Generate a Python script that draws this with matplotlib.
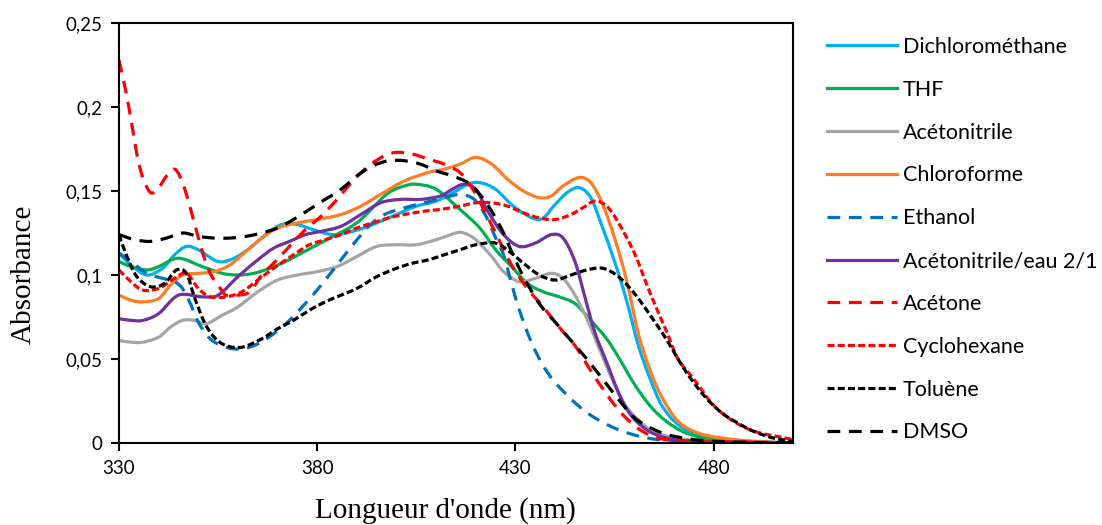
import matplotlib
matplotlib.use("Agg")
import numpy as np
import matplotlib.pyplot as plt
from matplotlib.path import Path
from matplotlib.patches import PathPatch
from matplotlib.lines import Line2D

# wavelengths (nm) and absorbance, one pair per solvent
dcm_x = [330, 333, 337, 341, 344, 347, 350, 355, 359, 363, 367, 371, 375, 379, 384, 389, 395, 400, 405, 410,
         415, 418, 421, 425, 430, 436, 440, 443, 446, 449, 452, 455, 458, 461, 464, 467, 471, 476, 482, 490, 500]
dcm_y = [0.113, 0.106, 0.100, 0.104, 0.112, 0.117, 0.115, 0.108, 0.110, 0.116, 0.124, 0.130, 0.130, 0.127, 0.124,
         0.126, 0.131, 0.136, 0.141, 0.144, 0.150, 0.154, 0.155, 0.151, 0.140, 0.133, 0.142, 0.149, 0.152, 0.146,
         0.128, 0.108, 0.085, 0.058, 0.038, 0.022, 0.011, 0.005, 0.002, 0.001, 0.0]

thf_x = [330, 333, 337, 340, 345, 351, 356, 360, 364, 368, 372, 376, 380, 384, 388, 391, 394, 398, 402, 405,
         410, 416, 421, 425, 429, 433, 437, 441, 445, 449, 453, 456, 460, 464, 468, 473, 480, 490, 500]
thf_y = [0.108, 0.105, 0.103, 0.105, 0.110, 0.105, 0.101, 0.100, 0.101, 0.104, 0.108, 0.113, 0.118, 0.123, 0.128,
         0.133, 0.140, 0.149, 0.153, 0.154, 0.151, 0.139, 0.128, 0.115, 0.105, 0.095, 0.090, 0.087, 0.083, 0.073,
         0.062, 0.051, 0.035, 0.022, 0.013, 0.006, 0.002, 0.0005, 0.0]

acn_x = [330, 333, 336, 340, 343, 346, 349, 352, 356, 360, 365, 370, 375, 380, 385, 390, 395, 400, 405, 410,
         415, 417, 420, 424, 427, 431, 435, 439, 442, 445, 448, 451, 454, 457, 460, 464, 470, 480, 500]
acn_y = [0.061, 0.060, 0.060, 0.063, 0.069, 0.073, 0.073, 0.071, 0.076, 0.081, 0.090, 0.097, 0.100, 0.102, 0.105,
         0.111, 0.117, 0.118, 0.118, 0.121, 0.125, 0.125, 0.121, 0.111, 0.102, 0.096, 0.098, 0.101, 0.098, 0.088,
         0.074, 0.057, 0.040, 0.025, 0.016, 0.008, 0.003, 0.001, 0.0]

chcl3_x = [330, 333, 336, 340, 343, 346, 350, 354, 358, 362, 366, 370, 375, 380, 386, 391, 396, 402, 408, 412,
           416, 420, 424, 428, 432, 436, 439, 442, 446, 449, 452, 455, 458, 461, 464, 467, 471, 476, 482, 490, 500]
chcl3_y = [0.088, 0.085, 0.084, 0.086, 0.094, 0.100, 0.101, 0.102, 0.106, 0.114, 0.122, 0.128, 0.131, 0.133, 0.136,
           0.141, 0.148, 0.156, 0.161, 0.163, 0.166, 0.170, 0.166, 0.157, 0.150, 0.146, 0.147, 0.153, 0.158, 0.155,
           0.142, 0.122, 0.097, 0.065, 0.043, 0.027, 0.013, 0.006, 0.003, 0.001, 0.0]

etoh_x = [330, 333, 337, 341, 344, 346, 348, 350, 353, 357, 361, 365, 369, 373, 377, 381, 385, 389, 393, 397,
          402, 407, 412, 416, 419, 421, 423, 425, 427, 429, 431, 434, 437, 440, 445, 450, 457, 466, 480, 500]
etoh_y = [0.113, 0.108, 0.101, 0.098, 0.096, 0.092, 0.083, 0.072, 0.062, 0.057, 0.056, 0.059, 0.065, 0.073, 0.083,
          0.094, 0.106, 0.118, 0.129, 0.136, 0.140, 0.143, 0.146, 0.148, 0.146, 0.141, 0.133, 0.122, 0.112, 0.095,
          0.079, 0.060, 0.046, 0.036, 0.024, 0.015, 0.007, 0.002, 0.0005, 0.0]

acnw_x = [330, 333, 336, 340, 345, 351, 355, 360, 365, 369, 373, 377, 381, 386, 391, 396, 401, 406, 411, 414,
          417, 420, 423, 427, 431, 435, 439, 442, 445, 447.5, 450, 453, 456, 459, 463, 468, 475, 485, 500]
acnw_y = [0.074, 0.073, 0.073, 0.077, 0.088, 0.087, 0.088, 0.099, 0.109, 0.116, 0.120, 0.124, 0.126, 0.129, 0.136,
          0.143, 0.145, 0.145, 0.147, 0.151, 0.154, 0.151, 0.138, 0.124, 0.117, 0.119, 0.124, 0.122, 0.108, 0.087,
          0.066, 0.048, 0.030, 0.017, 0.008, 0.003, 0.001, 0.0005, 0.0]

acetone_x = [330, 331.5, 333, 334.5, 336, 338, 340, 342, 344, 345.5, 347, 349, 351, 353, 355, 357, 360, 363, 366,
             369, 373, 377, 381, 385, 389, 393, 397, 400, 404, 408, 412, 416, 419, 422, 425, 429, 433, 437, 441,
             445, 449, 453, 457, 462, 468, 480, 500]
acetone_y = [0.228, 0.212, 0.193, 0.172, 0.158, 0.149, 0.152, 0.159, 0.163, 0.158, 0.148, 0.131, 0.114, 0.101, 0.094,
             0.088, 0.088, 0.090, 0.100, 0.107, 0.117, 0.127, 0.135, 0.145, 0.156, 0.165, 0.171, 0.173, 0.172, 0.169,
             0.166, 0.161, 0.152, 0.139, 0.125, 0.106, 0.092, 0.081, 0.069, 0.058, 0.043, 0.029, 0.017, 0.007,
             0.002, 0.001, 0.0]

chx_x = [330, 333, 336, 340, 344, 347, 350, 353, 357, 361, 365, 369, 374, 378, 382, 386, 390, 394, 398, 402, 407,
         411, 416, 420, 424, 428, 432, 436, 440, 444, 447, 450, 453, 456, 460, 464, 468, 471, 475, 481, 489, 498, 500]
chx_y = [0.103, 0.096, 0.091, 0.092, 0.098, 0.101, 0.092, 0.087, 0.087, 0.090, 0.097, 0.104, 0.112, 0.118, 0.121,
         0.124, 0.128, 0.131, 0.134, 0.136, 0.138, 0.139, 0.141, 0.143, 0.143, 0.141, 0.137, 0.134, 0.133, 0.136,
         0.140, 0.144, 0.141, 0.131, 0.113, 0.089, 0.067, 0.050, 0.038, 0.020, 0.008, 0.003, 0.002]

tol_x = [330, 332, 334.5, 338, 341.5, 344.5, 347, 349, 351.5, 354, 357, 361, 366, 370, 374, 378, 382, 386, 390,
         395, 400, 404, 408, 412, 416, 420, 425, 429, 432, 436, 440, 444, 448, 452, 456, 460, 464, 468, 471, 474,
         478, 482, 486, 490, 495, 500]
tol_y = [0.124, 0.111, 0.099, 0.093, 0.095, 0.103, 0.101, 0.087, 0.072, 0.063, 0.058, 0.057, 0.062, 0.068, 0.073,
         0.079, 0.084, 0.088, 0.092, 0.099, 0.104, 0.107, 0.109, 0.112, 0.115, 0.118, 0.119, 0.113, 0.107, 0.100,
         0.097, 0.100, 0.103, 0.104, 0.099, 0.089, 0.076, 0.062, 0.050, 0.039, 0.027, 0.018, 0.012, 0.007, 0.003,
         0.001]

dmso_x = [330, 334, 338, 342, 346, 350, 354, 358, 362, 366, 370, 374, 378, 382, 386, 390, 394, 398, 402, 406,
          410, 414, 418, 421, 424, 427, 429, 432, 436, 440, 444, 448, 452, 456, 460, 465, 470, 480, 500]
dmso_y = [0.124, 0.121, 0.120, 0.122, 0.125, 0.123, 0.122, 0.122, 0.123, 0.125, 0.128, 0.133, 0.139, 0.145, 0.151,
          0.159, 0.165, 0.168, 0.168, 0.166, 0.162, 0.159, 0.155, 0.148, 0.138, 0.125, 0.114, 0.099, 0.083, 0.072,
          0.061, 0.050, 0.038, 0.026, 0.015, 0.008, 0.004, 0.001, 0.0]

long_dash = (0, (4, 2.7))
short_dash = (0, (2.2, 1))

series = [
    ("Dichlorométhane", dcm_x, dcm_y, "#00B0F0", "-"),
    ("THF", thf_x, thf_y, "#00B050", "-"),
    ("Acétonitrile", acn_x, acn_y, "#A5A5A5", "-"),
    ("Chloroforme", chcl3_x, chcl3_y, "#FF7C24", "-"),
    ("Ethanol", etoh_x, etoh_y, "#0070C0", long_dash),
    ("Acétonitrile/eau 2/1", acnw_x, acnw_y, "#7030A0", "-"),
    ("Acétone", acetone_x, acetone_y, "#FF0000", long_dash),
    ("Cyclohexane", chx_x, chx_y, "#FF0000", short_dash),
    ("Toluène", tol_x, tol_y, "#000000", short_dash),
    ("DMSO", dmso_x, dmso_y, "#000000", long_dash),
]


def smooth_path(x, y):
    # Catmull-Rom style bezier through the points, like Excel's smoothed lines
    pts = np.column_stack([x, y])
    n = len(pts)
    verts = [pts[0]]
    codes = [Path.MOVETO]
    for i in range(n - 1):
        p0 = pts[max(i - 1, 0)]
        p1 = pts[i]
        p2 = pts[i + 1]
        p3 = pts[min(i + 2, n - 1)]
        verts += [p1 + (p2 - p0) / 6, p2 - (p3 - p1) / 6, p2]
        codes += [Path.CURVE4] * 3
    return Path(verts, codes)


fig = plt.figure(figsize=(11.02, 5.25), dpi=100)
ax = fig.add_axes([119 / 1102, 1 - 443 / 525, (793 - 119) / 1102, (443 - 23) / 525])

handles = []
for label, x, y, color, ls in series:
    ax.add_patch(PathPatch(smooth_path(x, y), fill=False, edgecolor=color, linestyle=ls,
                           linewidth=2.3, joinstyle="round"))
    handles.append(Line2D([], [], color=color, linestyle=ls, linewidth=2.3, label=label))

ax.set_xlim(330, 500)
ax.set_ylim(0, 0.25)
ax.set_xticks([330, 380, 430, 480])
ax.set_yticks([0, 0.05, 0.1, 0.15, 0.2, 0.25])
ax.set_yticklabels(["0", "0,05", "0,1", "0,15", "0,2", "0,25"])

for s in ax.spines.values():
    s.set_linewidth(1.5)
ax.tick_params(direction="out", length=6, width=1.5, labelsize=13.5, pad=6)
for t in ax.get_xticklabels() + ax.get_yticklabels():
    t.set_fontfamily("Lato")

xl = ax.set_xlabel("Longueur d'onde (nm)", fontfamily="Liberation Serif", fontsize=21)
yl = ax.set_ylabel("Absorbance", fontfamily="Liberation Serif", fontsize=21)
xl.set_verticalalignment("center")
yl.set_verticalalignment("center")
ax.xaxis.set_label_coords((445 - 119) / 674, -(511 - 443) / 420)
ax.yaxis.set_label_coords(-(119 - 24) / 674, (443 - 274) / 420)

fig.legend(handles=handles, loc="upper left", bbox_to_anchor=(827 / 1102, 1 - 37 / 525), frameon=False,
           prop={"family": "Lato", "size": 15.5}, handlelength=3.25, handletextpad=0.27,
           labelspacing=1.06, borderpad=0, borderaxespad=0)

fig.savefig("out.png", dpi=100)
